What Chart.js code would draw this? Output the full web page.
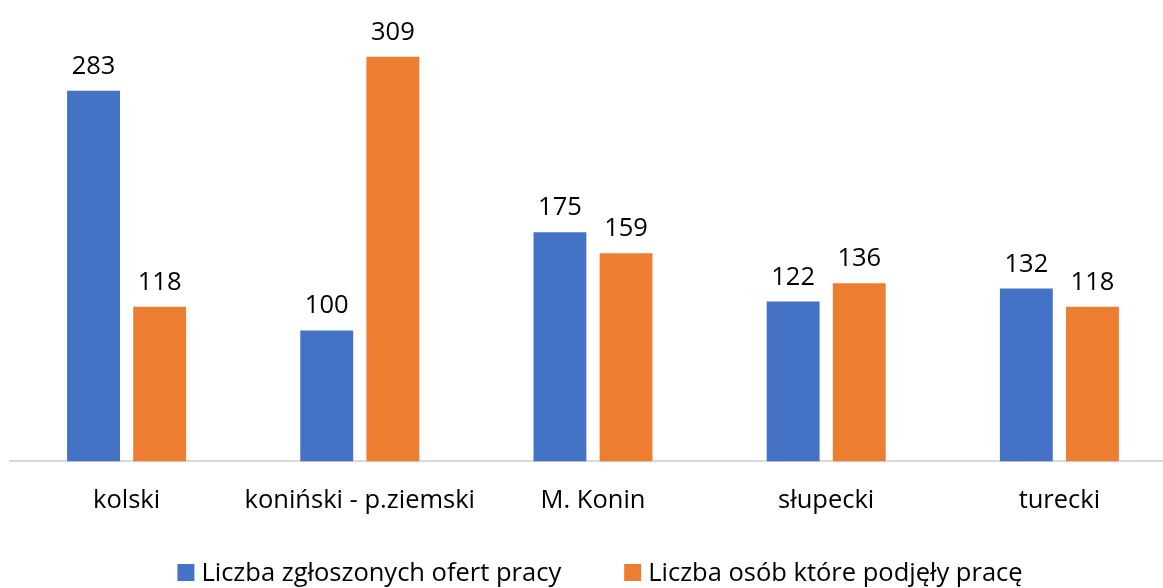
<!DOCTYPE html>
<html>
<head>
<meta charset="utf-8">
<script src="https://cdn.jsdelivr.net/npm/chart.js@4"></script>
<style>
  html, body { margin: 0; padding: 0; background: #fff; overflow: hidden; }
  #wrap { position: absolute; left: 0; top: 0; width: 1176px; height: 588px; }
</style>
</head>
<body>
<div id="wrap"><canvas id="chart"></canvas></div>
<script>
const categories = ['kolski', 'koniński - p.ziemski', 'M. Konin', 'słupecki', 'turecki'];
const offers = [283, 100, 175, 122, 132];
const employed = [118, 309, 159, 136, 118];
const seriesNames = ['Liczba zgłoszonych ofert pracy', 'Liczba osób które podjęły pracę'];
const colors = ['#4472C4', '#ED7D31'];

const FONT = '"Open Sans", "Noto Sans", sans-serif';
const FONT_SIZE = 25.5;

// values above the bars
const valueLabels = {
  id: 'valueLabels',
  afterDatasetsDraw(chart) {
    const { ctx } = chart;
    ctx.save();
    ctx.font = FONT_SIZE + 'px ' + FONT;
    ctx.fillStyle = '#000';
    ctx.textAlign = 'center';
    ctx.textBaseline = 'alphabetic';
    chart.data.datasets.forEach((ds, i) => {
      chart.getDatasetMeta(i).data.forEach((bar, j) => {
        ctx.fillText(ds.data[j], bar.x, bar.y - 17);
      });
    });
    ctx.restore();
  },
};

// legend at the bottom, wider gap between items than the built-in one allows
const bottomLegend = {
  id: 'bottomLegend',
  afterDraw(chart) {
    const { ctx } = chart;
    const box = 17, textGap = 7, itemGap = 63, centerX = 600, y = 573;
    ctx.save();
    ctx.font = FONT_SIZE + 'px ' + FONT;
    const widths = chart.data.datasets.map((ds) => ctx.measureText(ds.label).width);
    const total = widths.reduce((s, w) => s + box + textGap + w, 0) + itemGap * (widths.length - 1);
    let x = centerX - total / 2;
    ctx.textBaseline = 'middle';
    ctx.textAlign = 'left';
    chart.data.datasets.forEach((ds, i) => {
      ctx.fillStyle = ds.backgroundColor;
      ctx.fillRect(x, y - 9, box, box);
      ctx.fillStyle = '#000';
      ctx.fillText(ds.label, x + box + textGap, y + 1);
      x += box + textGap + widths[i] + itemGap;
    });
    ctx.restore();
  },
};

new Chart(document.getElementById('chart'), {
  type: 'bar',
  data: {
    labels: categories,
    datasets: [
      { label: seriesNames[0], data: offers, backgroundColor: colors[0] },
      { label: seriesNames[1], data: employed, backgroundColor: colors[1] },
    ],
  },
  options: {
    responsive: true,
    maintainAspectRatio: false,
    animation: false,
    categoryPercentage: 0.567,
    barPercentage: 0.8,
    layout: { padding: { left: 10, right: 0, top: 3, bottom: 56 } },
    scales: {
      x: {
        grid: { display: false },
        border: { color: '#D9D9D9', width: 2 },
        ticks: {
          color: '#000',
          font: { family: FONT, size: FONT_SIZE },
          padding: 16,
          maxRotation: 0,
          minRotation: 0,
          autoSkip: false,
        },
      },
      y: {
        display: false,
        min: 0,
        max: 350,
      },
    },
    plugins: {
      legend: { display: false },
      tooltip: { enabled: false },
    },
  },
  plugins: [valueLabels, bottomLegend],
});
</script>
</body>
</html>
